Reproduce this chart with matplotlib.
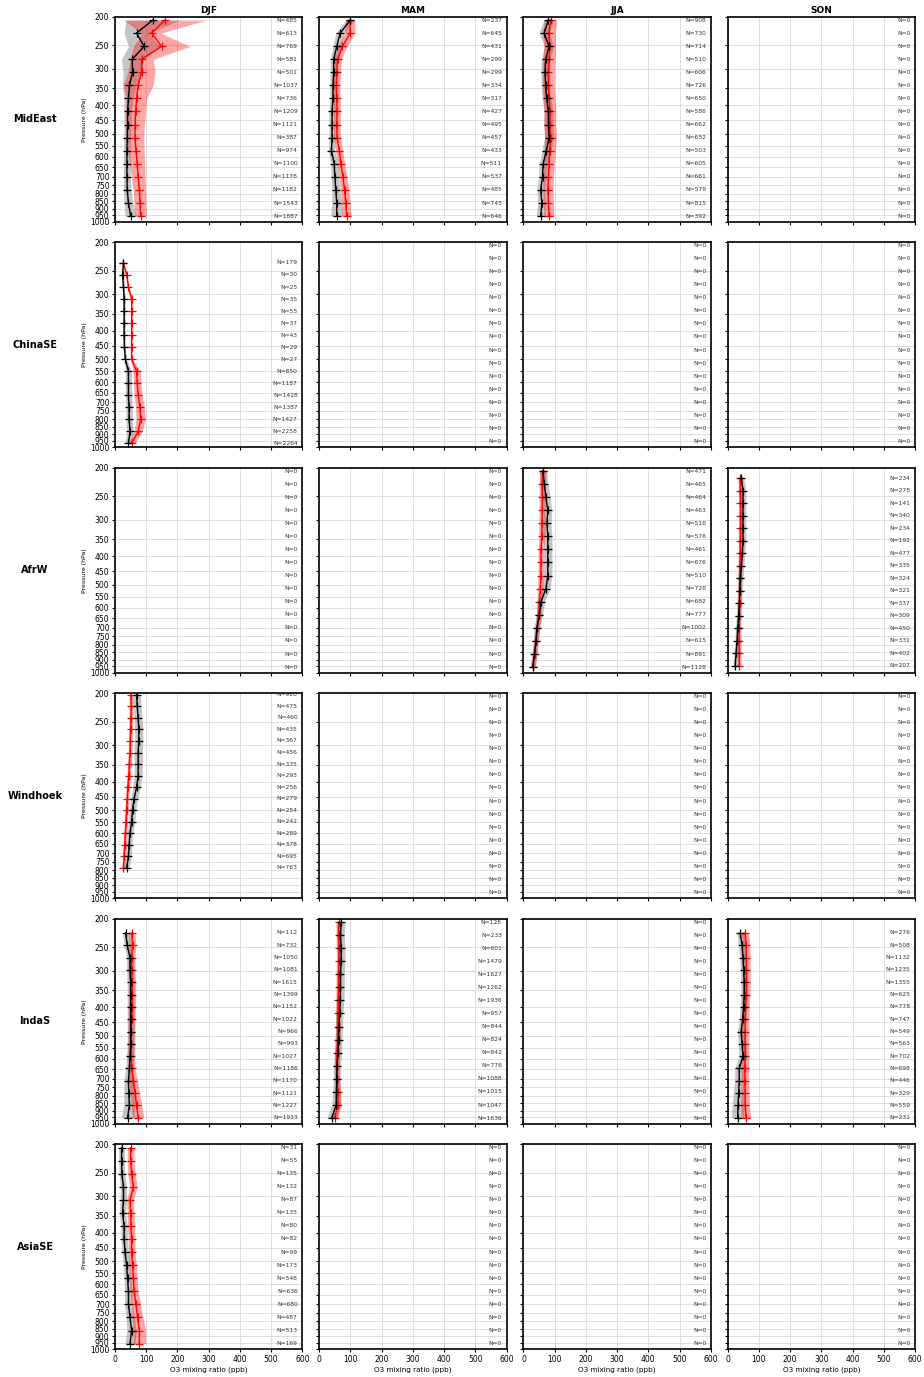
import matplotlib.pyplot as plt
import numpy as np
from matplotlib.ticker import NullLocator

regions = ['MidEast', 'ChinaSE', 'AfrW', 'Windhoek', 'IndaS', 'AsiaSE']
seasons = ['DJF', 'MAM', 'JJA', 'SON']
pres_ticks = [200, 250, 300, 350, 400, 450, 500, 550, 600, 650, 700, 750, 800, 850, 900, 950, 1000]
x_ticks = [0, 100, 200, 300, 400, 500, 600]

# pressure levels of the profiles (hPa)
lev_a = [205, 227, 252, 279, 309, 342, 379, 420, 466, 516, 572, 634, 702, 778, 862, 955]
lev_china = [235, 258, 284, 312, 343, 377, 414, 455, 500, 550, 604, 664, 730, 802, 882, 969]
lev_windhoek = [202, 221, 242, 265, 290, 318, 348, 381, 417, 457, 500, 548, 600, 657, 719, 787]
lev_indas = [223, 246, 271, 298, 329, 362, 399, 439, 484, 533, 587, 647, 713, 785, 865, 953]
lev_afrw_son = [217, 239, 264, 291, 321, 354, 391, 431, 475, 524, 578, 638, 703, 776, 856, 944]

# MidEast DJF
mideast_djf_obs = [121, 69, 93, 55, 56, 46, 43, 40, 40, 39, 38, 38, 38, 39, 43, 50]
mideast_djf_obs_sd = [86, 40, 50, 35, 30, 22, 15, 12, 12, 11, 11, 11, 11, 12, 14, 18]
mideast_djf_mod = [160, 117, 149, 85, 85, 74, 69, 66, 64, 64, 67, 71, 74, 78, 80, 82]
mideast_djf_mod_sd = [133, 30, 90, 37, 43, 48, 32, 32, 30, 28, 26, 24, 22, 20, 19, 18]
mideast_djf_n = [485, 613, 769, 581, 501, 1037, 736, 1209, 1121, 387, 974, 1100, 1178, 1182, 1543, 1887]

# MidEast MAM
mideast_mam_obs = [99, 67, 56, 46, 46, 44, 44, 41, 41, 41, 39, 48, 50, 53, 56, 56]
mideast_mam_obs_sd = [14, 14, 12, 11, 11, 10, 10, 10, 10, 10, 10, 11, 12, 13, 16, 20]
mideast_mam_mod = [99, 99, 74, 59, 56, 55, 56, 57, 56, 57, 64, 69, 76, 81, 85, 88]
mideast_mam_mod_sd = [15, 16, 15, 12, 12, 11, 11, 11, 11, 11, 12, 12, 13, 13, 14, 14]
mideast_mam_n = [237, 645, 431, 299, 299, 334, 317, 427, 495, 457, 433, 511, 537, 485, 745, 646]

# MidEast JJA
mideast_jja_obs = [80, 66, 82, 71, 69, 71, 74, 80, 80, 82, 73, 63, 61, 55, 59, 55]
mideast_jja_obs_sd = [15, 16, 15, 14, 14, 14, 14, 14, 14, 15, 14, 13, 12, 12, 13, 14]
mideast_jja_mod = [87, 82, 84, 82, 80, 80, 82, 85, 84, 87, 84, 82, 80, 78, 80, 82]
mideast_jja_mod_sd = [20, 20, 19, 19, 19, 19, 19, 19, 19, 19, 18, 17, 16, 16, 16, 16]
mideast_jja_n = [908, 730, 714, 510, 606, 726, 650, 586, 662, 652, 503, 605, 661, 579, 815, 392]

# ChinaSE DJF
chinase_djf_obs = [27, 24, 27, 29, 29, 29, 29, 30, 33, 43, 43, 43, 45, 45, 48, 43]
chinase_djf_obs_sd = [3, 3, 3, 3, 3, 3, 3, 3, 4, 10, 10, 10, 10, 10, 11, 10]
chinase_djf_mod = [27, 37, 43, 53, 53, 53, 53, 53, 53, 69, 71, 74, 80, 82, 74, 53]
chinase_djf_mod_sd = [2, 2, 2, 2, 2, 2, 2, 2, 2, 12, 12, 13, 14, 15, 13, 10]
chinase_djf_n = [179, 30, 25, 35, 55, 37, 43, 29, 27, 850, 1187, 1428, 1387, 1427, 2258, 2264]

# AfrW JJA
afrw_jja_obs = [62, 67, 72, 78, 75, 78, 78, 78, 78, 72, 56, 51, 43, 40, 35, 30]
afrw_jja_obs_sd = [12, 12, 13, 13, 13, 13, 13, 13, 13, 13, 11, 10, 9, 8, 8, 8]
afrw_jja_mod = [62, 60, 60, 60, 59, 59, 56, 56, 56, 54, 51, 49, 44, 40, 36, 30]
afrw_jja_mod_sd = [10, 10, 10, 10, 10, 10, 9, 9, 9, 9, 8, 8, 7, 7, 7, 7]
afrw_jja_n = [471, 465, 464, 463, 516, 576, 461, 676, 510, 728, 682, 777, 1002, 615, 891, 1128]

# AfrW SON
afrw_son_obs = [44, 49, 49, 49, 49, 49, 47, 44, 41, 39, 37, 35, 32, 30, 27, 24]
afrw_son_obs_sd = [8, 9, 9, 9, 9, 9, 8, 8, 8, 7, 7, 7, 7, 7, 7, 7]
afrw_son_mod = [40, 40, 41, 41, 41, 40, 40, 39, 39, 38, 38, 37, 37, 37, 37, 37]
afrw_son_mod_sd = [6, 6, 6, 6, 6, 6, 6, 6, 6, 6, 6, 6, 6, 6, 6, 6]
afrw_son_n = [234, 278, 141, 340, 234, 192, 477, 335, 324, 321, 337, 309, 450, 331, 402, 207]

# Windhoek DJF
windhoek_djf_obs = [69, 71, 74, 76, 76, 74, 74, 74, 69, 61, 56, 53, 48, 45, 43, 37]
windhoek_djf_obs_sd = [12, 12, 13, 13, 13, 13, 13, 13, 12, 11, 10, 10, 9, 9, 9, 8]
windhoek_djf_mod = [51, 52, 51, 50, 49, 48, 46, 44, 41, 39, 37, 35, 33, 31, 29, 27]
windhoek_djf_mod_sd = [6, 6, 6, 6, 6, 6, 6, 6, 5, 5, 5, 5, 5, 5, 5, 5]
windhoek_djf_n = [928, 475, 460, 435, 367, 456, 335, 293, 256, 279, 254, 242, 289, 378, 695, 763]

# IndaS DJF
indas_djf_obs = [34, 39, 48, 48, 50, 50, 50, 50, 50, 50, 48, 46, 43, 44, 46, 40]
indas_djf_obs_sd = [10, 10, 11, 11, 11, 11, 11, 11, 11, 11, 11, 12, 14, 16, 18, 20]
indas_djf_mod = [53, 56, 53, 53, 55, 55, 54, 53, 52, 52, 52, 53, 59, 64, 69, 74]
indas_djf_mod_sd = [11, 11, 11, 11, 11, 11, 11, 11, 11, 11, 11, 11, 13, 15, 17, 18]
indas_djf_n = [112, 732, 1050, 1081, 1615, 1399, 1152, 1022, 966, 993, 1027, 1186, 1170, 1121, 1227, 1933]

# IndaS MAM
indas_mam_obs = [70, 68, 70, 70, 68, 68, 67, 65, 63, 62, 60, 57, 56, 55, 54, 40]
indas_mam_obs_sd = [12, 12, 12, 12, 12, 12, 12, 11, 11, 11, 11, 11, 11, 12, 14, 16]
indas_mam_mod = [62, 62, 63, 63, 62, 62, 61, 60, 60, 59, 57, 56, 57, 60, 60, 49]
indas_mam_mod_sd = [8, 8, 8, 8, 8, 8, 8, 8, 8, 8, 8, 8, 8, 9, 10, 10]
indas_mam_n = [125, 233, 601, 1479, 1627, 1262, 1936, 957, 844, 824, 842, 776, 1088, 1015, 1047, 1636]

# IndaS SON
indas_son_obs = [40, 46, 49, 51, 53, 53, 51, 48, 43, 46, 49, 37, 37, 35, 33, 32]
indas_son_obs_sd = [11, 11, 11, 11, 11, 11, 11, 11, 12, 12, 13, 14, 15, 17, 19, 20]
indas_son_mod = [56, 59, 60, 60, 60, 59, 57, 56, 56, 56, 56, 55, 55, 56, 56, 59]
indas_son_mod_sd = [12, 12, 12, 12, 12, 12, 12, 12, 12, 12, 12, 12, 12, 13, 14, 15]
indas_son_n = [276, 508, 1132, 1235, 1355, 625, 778, 747, 549, 563, 702, 698, 446, 329, 559, 231]

# AsiaSE DJF
asiase_djf_obs = [21, 21, 22, 27, 27, 24, 29, 29, 32, 37, 40, 43, 43, 48, 53, 48]
asiase_djf_obs_sd = [9, 9, 9, 10, 10, 10, 10, 10, 10, 11, 11, 12, 12, 13, 15, 16]
asiase_djf_mod = [50, 50, 53, 59, 48, 50, 51, 53, 53, 56, 59, 61, 67, 72, 78, 78]
asiase_djf_mod_sd = [11, 11, 12, 12, 11, 11, 11, 11, 11, 12, 12, 13, 15, 17, 20, 20]
asiase_djf_n = [31, 55, 135, 132, 87, 135, 80, 82, 99, 173, 548, 636, 680, 487, 513, 169]

n_zero = [0] * 16

profiles = {
    ('MidEast', 'DJF'): (lev_a, mideast_djf_obs, mideast_djf_obs_sd, mideast_djf_mod, mideast_djf_mod_sd, mideast_djf_n),
    ('MidEast', 'MAM'): (lev_a, mideast_mam_obs, mideast_mam_obs_sd, mideast_mam_mod, mideast_mam_mod_sd, mideast_mam_n),
    ('MidEast', 'JJA'): (lev_a, mideast_jja_obs, mideast_jja_obs_sd, mideast_jja_mod, mideast_jja_mod_sd, mideast_jja_n),
    ('ChinaSE', 'DJF'): (lev_china, chinase_djf_obs, chinase_djf_obs_sd, chinase_djf_mod, chinase_djf_mod_sd, chinase_djf_n),
    ('AfrW', 'JJA'): (lev_a, afrw_jja_obs, afrw_jja_obs_sd, afrw_jja_mod, afrw_jja_mod_sd, afrw_jja_n),
    ('AfrW', 'SON'): (lev_afrw_son, afrw_son_obs, afrw_son_obs_sd, afrw_son_mod, afrw_son_mod_sd, afrw_son_n),
    ('Windhoek', 'DJF'): (lev_windhoek, windhoek_djf_obs, windhoek_djf_obs_sd, windhoek_djf_mod, windhoek_djf_mod_sd, windhoek_djf_n),
    ('IndaS', 'DJF'): (lev_indas, indas_djf_obs, indas_djf_obs_sd, indas_djf_mod, indas_djf_mod_sd, indas_djf_n),
    ('IndaS', 'MAM'): (lev_a, indas_mam_obs, indas_mam_obs_sd, indas_mam_mod, indas_mam_mod_sd, indas_mam_n),
    ('IndaS', 'SON'): (lev_indas, indas_son_obs, indas_son_obs_sd, indas_son_mod, indas_son_mod_sd, indas_son_n),
    ('AsiaSE', 'DJF'): (lev_a, asiase_djf_obs, asiase_djf_obs_sd, asiase_djf_mod, asiase_djf_mod_sd, asiase_djf_n),
}

fig, axes = plt.subplots(6, 4, figsize=(9.24, 13.77), dpi=100,
                         gridspec_kw=dict(left=0.1245, right=0.9903, top=0.9877, bottom=0.02,
                                          wspace=0.09, hspace=0.1))

for i, reg in enumerate(regions):
    for j, sea in enumerate(seasons):
        ax = axes[i, j]
        ax.set_yscale('log')
        ax.set_ylim(1000, 200)
        ax.set_xlim(0, 600)
        ax.set_yticks(pres_ticks)
        ax.yaxis.set_minor_locator(NullLocator())
        ax.set_xticks(x_ticks)
        ax.grid(True, color='#d8d8d8', lw=0.6)
        ax.set_axisbelow(True)

        if (reg, sea) in profiles:
            lev, obs, obs_sd, mod, mod_sd, nums = profiles[(reg, sea)]
            obs = np.array(obs); obs_sd = np.array(obs_sd)
            mod = np.array(mod); mod_sd = np.array(mod_sd)
            ax.fill_betweenx(lev, obs - obs_sd, obs + obs_sd, color='grey', alpha=0.45, lw=0)
            ax.fill_betweenx(lev, mod - mod_sd, mod + mod_sd, color='red', alpha=0.35, lw=0)
            ax.plot(mod, lev, color='red', lw=1, marker='+', ms=6, mew=0.9)
            ax.plot(obs, lev, color='black', lw=1, marker='+', ms=6, mew=0.9)
        else:
            lev, nums = lev_a, n_zero

        for p, n in zip(lev, nums):
            ax.text(585, p, 'N=%d' % n, fontsize=4.3, ha='right', va='center', color='#333333')

        if j == 0:
            ax.set_yticklabels([str(t) for t in pres_ticks], fontsize=5.5)
            ax.set_ylabel('Pressure (hPa)', fontsize=4.5, labelpad=2)
        else:
            ax.set_yticklabels([])
        if i == len(regions) - 1:
            ax.set_xticklabels([str(t) for t in x_ticks], fontsize=5.5)
            ax.set_xlabel('O3 mixing ratio (ppb)', fontsize=5.2, labelpad=2)
        else:
            ax.set_xticklabels([])
        ax.tick_params(length=2.5, width=0.8, pad=1.5)
        for s in ax.spines.values():
            s.set_linewidth(1.2)
        if i == 0:
            ax.set_title(sea, fontsize=6.5, fontweight='bold', pad=3)

    pos = axes[i, 0].get_position()
    fig.text(0.038, (pos.y0 + pos.y1) / 2, reg, fontsize=7, fontweight='bold', ha='center', va='center')

plt.savefig('out.png', dpi=100)
